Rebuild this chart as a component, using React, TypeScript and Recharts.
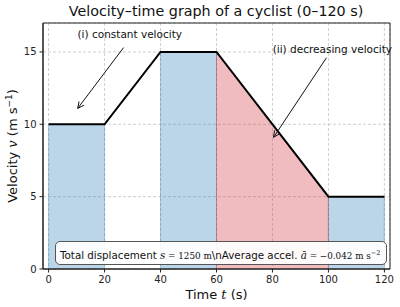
import React from 'react';
import {
    ComposedChart, Area, Line, XAxis, YAxis, CartesianGrid, ReferenceLine, ReferenceDot, ReferenceArea,
} from 'recharts';

// velocity profile of the ride
const times = [0, 20, 40, 60, 100, 120];
const velocities = [10, 10, 15, 15, 5, 5];

// shaded phases, [start, end] in seconds
const constantPhases = [[0, 20], [40, 60], [100, 120]];
const deceleratingPhases = [[60, 100]];

const xTicks = [0, 20, 40, 60, 80, 100, 120];
const yTicks = [0, 5, 10, 15];

// annotations, anchored in data units
const noteTexts = ['(i) constant velocity', '(ii) decreasing velocity'];
const noteTextAt = [[29, 16.2], [101.4, 15.2]];
const noteTail = [[26.8, 15.3], [99.3, 14.6]];
const noteHead = [[10.4, 11.1], [80.4, 9.1]];

const FONT = '"DejaVu Sans", sans-serif';
const MATH = '"DejaVu Serif", serif';
const BLUE = '#1f77b4';
const RED = '#d0202e';

const vAt = (t: number) => velocities[times.indexOf(t)];

const rows = times.map((t, i) => {
    const row: any = { t, v: velocities[i] };
    constantPhases.forEach(([a, b], k) => {
        row[`c${k}`] = t >= a && t <= b ? velocities[i] : null;
    });
    deceleratingPhases.forEach(([a, b], k) => {
        row[`d${k}`] = t >= a && t <= b ? velocities[i] : null;
    });
    return row;
});

const Arrow = (p: any) => {
    const { x1, y1, x2, y2 } = p;
    const ang = Math.atan2(y2 - y1, x2 - x1);
    const len = 7;
    const spread = 0.45;
    const ax = x2 - len * Math.cos(ang - spread);
    const ay = y2 - len * Math.sin(ang - spread);
    const bx = x2 - len * Math.cos(ang + spread);
    const by = y2 - len * Math.sin(ang + spread);
    return (
        <g>
            <line x1={x1} y1={y1} x2={x2} y2={y2} stroke="#111" strokeWidth={1} />
            <polyline points={`${ax},${ay} ${x2},${y2} ${bx},${by}`} fill="none" stroke="#111" strokeWidth={1} />
        </g>
    );
};

const XLabel = (props: any) => {
    const { x, y, width } = props.viewBox;
    return (
        <text x={x + width / 2} y={y + 30} textAnchor="middle" fontSize={13} fill="#111" fontFamily={FONT}>
            Time <tspan fontFamily={MATH} fontStyle="italic">t</tspan> (s)
        </text>
    );
};

const YLabel = (props: any) => {
    const { y, height } = props.viewBox;
    const cx = 17;
    const cy = y + height / 2;
    return (
        <text x={cx} y={cy} textAnchor="middle" fontSize={13} fill="#111" fontFamily={FONT} transform={`rotate(-90, ${cx}, ${cy})`}>
            Velocity <tspan fontFamily={MATH} fontStyle="italic">v</tspan> (m s<tspan dy={-5} fontSize={9}>−1</tspan><tspan dy={5}>)</tspan>
        </text>
    );
};

export default function App() {
    const phaseEdges: { t: number; color: string }[] = [];
    constantPhases.forEach(([a, b]) => { phaseEdges.push({ t: a, color: BLUE }, { t: b, color: BLUE }); });
    deceleratingPhases.forEach(([a, b]) => { phaseEdges.push({ t: a, color: RED }, { t: b, color: RED }); });

    return (
        <div style={{ position: 'absolute', left: 0, top: 0, width: 400, height: 307, background: '#fff' }}>
            <div style={{
                position: 'absolute', left: 0, width: 400, top: 3, textAlign: 'center', fontFamily: FONT, fontSize: 14.3, color: '#111', paddingLeft: 32, boxSizing: 'border-box',
            }}
            >
                Velocity–time graph of a cyclist (0–120 s)
            </div>
            <ComposedChart
                width={400}
                height={307}
                data={rows}
                margin={{ top: 23, right: 10, bottom: 0, left: 0 }}
            >
                <CartesianGrid stroke="#cfcfcf" strokeDasharray="3 2" />
                <XAxis
                    dataKey="t"
                    type="number"
                    domain={[-2, 122]}
                    ticks={xTicks}
                    height={38}
                    tickSize={3.5}
                    tickMargin={3}
                    stroke="#222"
                    tick={{ fontSize: 10, fill: '#222', fontFamily: FONT }}
                    label={<XLabel />}
                />
                <YAxis
                    type="number"
                    domain={[0, 17]}
                    ticks={yTicks}
                    width={43}
                    tickSize={3.5}
                    tickMargin={3}
                    stroke="#222"
                    tick={{ fontSize: 10, fill: '#222', fontFamily: FONT }}
                    label={<YLabel />}
                />
                {constantPhases.map((_, k) => (
                    <Area
                        key={`c${k}`}
                        dataKey={`c${k}`}
                        type="linear"
                        fill={BLUE}
                        fillOpacity={0.3}
                        stroke="none"
                        isAnimationActive={false}
                        connectNulls={false}
                    />
                ))}
                {deceleratingPhases.map((_, k) => (
                    <Area
                        key={`d${k}`}
                        dataKey={`d${k}`}
                        type="linear"
                        fill={RED}
                        fillOpacity={0.3}
                        stroke="none"
                        isAnimationActive={false}
                        connectNulls={false}
                    />
                ))}
                {phaseEdges.map((e, i) => (
                    <ReferenceLine
                        key={`e${i}`}
                        segment={[{ x: e.t, y: 0 }, { x: e.t, y: vAt(e.t) }]}
                        stroke={e.color}
                        strokeOpacity={0.3}
                        strokeWidth={1}
                    />
                ))}
                <Line dataKey="v" type="linear" stroke="#000" strokeWidth={2} dot={false} isAnimationActive={false} />
                <ReferenceArea x1={-2} x2={122} y1={0} y2={17} fill="none" stroke="#222" strokeWidth={1} />
                {noteTexts.map((txt, i) => (
                    <ReferenceLine
                        key={`a${i}`}
                        segment={[{ x: noteTail[i][0], y: noteTail[i][1] }, { x: noteHead[i][0], y: noteHead[i][1] }]}
                        shape={<Arrow />}
                    />
                ))}
                {noteTexts.map((txt, i) => (
                    <ReferenceDot
                        key={`n${i}`}
                        x={noteTextAt[i][0]}
                        y={noteTextAt[i][1]}
                        r={0}
                        ifOverflow="visible"
                        shape={(p: any) => (
                            <text x={p.cx} y={p.cy} dy="0.35em" textAnchor="middle" fontSize={10.5} fill="#111" fontFamily={FONT}>
                                {txt}
                            </text>
                        )}
                    />
                ))}
            </ComposedChart>
            <div style={{
                position: 'absolute',
                left: 55,
                top: 241,
                width: 332,
                height: 24,
                boxSizing: 'border-box',
                border: '1px solid #555',
                borderRadius: 5,
                background: 'rgba(255,255,255,0.92)',
                fontFamily: FONT,
                fontSize: 10.3,
                color: '#111',
                lineHeight: '22px',
                paddingLeft: 4,
                whiteSpace: 'nowrap',
                overflow: 'hidden',
            }}
            >
                Total displacement <span style={{ fontFamily: MATH, fontStyle: 'italic' }}>s</span>
                <span style={{ fontFamily: MATH, fontSize: 8.8 }}> = 1250 m</span>
                {'\\nAverage accel. '}
                <span style={{ fontFamily: MATH, fontStyle: 'italic' }}>ā</span>
                <span style={{ fontFamily: MATH, fontSize: 8.8 }}> = −0.042 m s<sup style={{ fontSize: 6.5 }}>−2</sup></span>
            </div>
        </div>
    );
}
